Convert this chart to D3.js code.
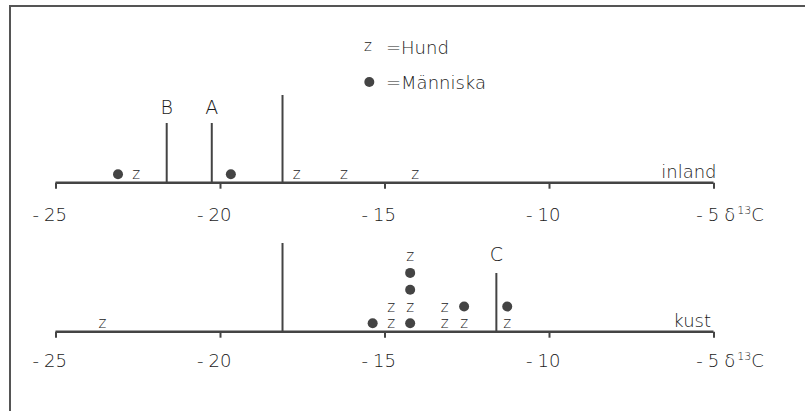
<!DOCTYPE html>
<html><head><meta charset="utf-8">
<script src="https://cdn.jsdelivr.net/npm/d3@7"></script>
<style>
html,body{margin:0;padding:0;background:#fff;}
svg text{font-family:"DejaVu Sans",sans-serif;fill:#1a1a1a;}
</style></head>
<body><svg id="c" width="805" height="411"></svg>
<script>
// ---- data ----
const tickValues = [-25, -20, -15, -10, -5];
const inlandHund = [-22.55, -17.67, -16.23, -14.07];
const inlandManniska = [-23.1, -19.67];
const inlandMarkers = [{label: "B", value: -21.62, kind: "short"}, {label: "A", value: -20.25, kind: "short"}, {label: "", value: -18.1, kind: "tall"}];
const kustValues = [-23.57, -15.36, -14.8, -14.8, -14.22, -14.22, -14.22, -14.22, -14.22, -13.17, -13.17, -12.58, -12.58, -11.27, -11.27];
const kustTypes  = ["z", "m", "z", "z", "m", "z", "m", "m", "z", "z", "z", "z", "m", "z", "m"];
const kustMarkers = [{label: "", value: -18.1, kind: "tall"}, {label: "C", value: -11.6, kind: "short"}];
const legendItems = [{type: "z", label: "=Hund"}, {type: "m", label: "=Människa"}];

const svg = d3.select("#c");
const ink = "#444";
const x = d3.scaleLinear().domain([-25, -5]).range([55.5, 713.5]);
const level = d3.scaleLinear().domain([0, 1]).range([0, 16.8]);

// frame
svg.append("path").attr("d", "M10,420 V6 H810").attr("fill", "none").attr("stroke", "#555").attr("stroke-width", 2);

// legend
const lg = svg.append("g");
legendItems.forEach((d, i) => {
  const cy = 47 + i * 35;
  if (d.type === "z") lg.append("text").attr("x", 368).attr("y", cy + 4).attr("text-anchor", "middle").attr("font-size", 15).attr("font-weight", 300).text("z");
  else lg.append("circle").attr("cx", 369.3).attr("cy", cy).attr("r", 5).attr("fill", ink);
  lg.append("text").attr("x", 386).attr("y", cy + 7).attr("font-size", 18).attr("font-weight", 300).text(d.label);
});

function panel(axisY, labelY, name, nameEnd, stacked, markers, tallTop, shortTop, labelBase) {
  const g = svg.append("g");
  // axis
  const ax = d3.axisBottom(x).tickValues(tickValues).tickSize(6).tickFormat("");
  const ag = g.append("g").attr("transform", `translate(0,${axisY})`).call(ax);
  ag.select(".domain").attr("stroke", ink).attr("stroke-width", 2.4).attr("d", `M${x(-25)},0H${x(-5)}`);
  ag.selectAll(".tick line").attr("stroke", ink).attr("stroke-width", 2);
  // tick labels
  tickValues.forEach(v => {
    const num = g.append("text").attr("x", x(v)).attr("y", labelY).attr("text-anchor", "middle").attr("font-size", 18).attr("font-weight", 300).text(String(Math.abs(v)));
    const w = num.node().getComputedTextLength();
    g.append("text").attr("x", x(v) - w / 2 - 5).attr("y", labelY).attr("text-anchor", "end").attr("font-size", 18).attr("font-weight", 300).text("-");
    if (v === -5) {
      const t = g.append("text").attr("x", x(v) + w / 2 + 5).attr("y", labelY).attr("font-size", 18).attr("font-weight", 300);
      t.append("tspan").text("δ");
      t.append("tspan").attr("font-size", 11).attr("dy", -7).attr("dx", 2).text("13");
      t.append("tspan").attr("dy", 7).text("C");
    }
  });
  // panel name
  g.append("text").attr("x", nameEnd).attr("y", axisY - 4.5).attr("text-anchor", "end").attr("font-size", 18).attr("font-weight", 300).text(name);
  // markers
  markers.forEach(m => {
    const top = m.kind === "tall" ? tallTop : shortTop;
    g.append("line").attr("x1", x(m.value)).attr("x2", x(m.value)).attr("y1", axisY).attr("y2", top).attr("stroke", ink).attr("stroke-width", 2);
    if (m.label) g.append("text").attr("x", x(m.value)).attr("y", labelBase).attr("text-anchor", "middle").attr("font-size", 19).attr("font-weight", 300).text(m.label);
  });
  // points
  stacked.forEach(p => {
    const cy = axisY - 8.4 - level(p.lvl);
    if (p.type === "z") g.append("text").attr("x", x(p.value)).attr("y", cy + 5).attr("text-anchor", "middle").attr("font-size", 15).attr("font-weight", 300).text("z");
    else g.append("circle").attr("cx", x(p.value)).attr("cy", cy).attr("r", 5).attr("fill", ink);
  });
}

function stack(values, types) {
  const counts = new Map();
  return values.map((v, i) => {
    const n = counts.get(v) || 0; counts.set(v, n + 1);
    return {value: v, type: types[i], lvl: n};
  });
}

const inlandPts = stack(inlandHund.concat(inlandManniska), inlandHund.map(() => "z").concat(inlandManniska.map(() => "m")));
panel(182.7, 220.5, "inland", 716.5, inlandPts, inlandMarkers, 95, 123, 114);
panel(331.7, 366.5, "kust", 711, stack(kustValues, kustTypes), kustMarkers, 243, 273, 260.7);
</script></body></html>
